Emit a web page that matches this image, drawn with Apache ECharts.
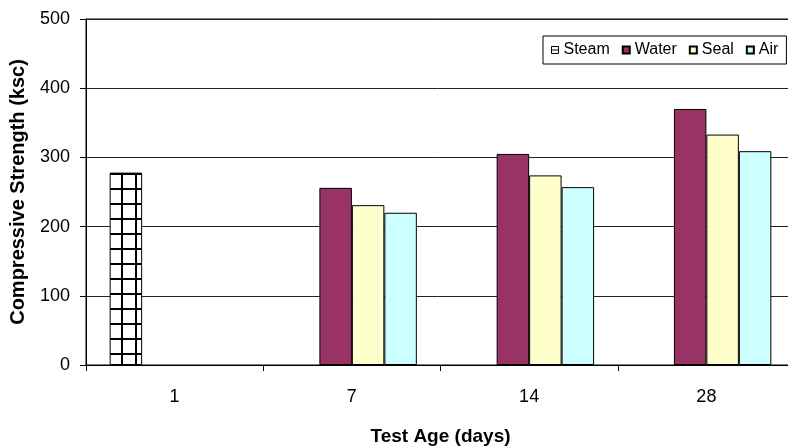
<!DOCTYPE html>
<html>
<head>
<meta charset="utf-8">
<script src="https://cdn.jsdelivr.net/npm/echarts@6/dist/echarts.min.js"></script>
<style>
html,body{margin:0;padding:0;background:#fff;}
#c{width:788px;height:448px;}
</style>
</head>
<body>
<div id="c"></div>
<script>
var categories = ['1', '7', '14', '28'];
var steam = [278, null, null, null];
var water = [null, 256, 305, 370];
var seal = [null, 231, 274, 333];
var air = [null, 220, 257, 309];
var yTicks = [0, 100, 200, 300, 400, 500];

function makeGridPattern() {
  var cv = document.createElement('canvas');
  cv.width = 14; cv.height = 15;
  var ctx = cv.getContext('2d');
  ctx.fillStyle = '#fff';
  ctx.fillRect(0, 0, 14, 15);
  ctx.fillStyle = '#000';
  ctx.fillRect(9, 0, 2, 15);
  ctx.fillRect(0, 8, 14, 2);
  return cv;
}

var FONT = '"Liberation Sans", Arial, sans-serif';
var chart = echarts.init(document.getElementById('c'), null, {renderer: 'canvas'});
var barBorder = {borderColor: '#000', borderWidth: 1};

chart.setOption({
  animation: false,
  backgroundColor: '#fff',
  textStyle: {fontFamily: FONT},
  grid: {
    left: 86, top: 19, width: 709, height: 346, containLabel: false,
    outerBoundsMode: 'none',
    show: true, borderColor: '#000', borderWidth: 1, backgroundColor: 'transparent'
  },
  legend: {
    left: 543, top: 36,
    padding: [6, 8, 6, 8],
    backgroundColor: '#fff',
    borderColor: '#000', borderWidth: 1,
    itemWidth: 7, itemHeight: 7, itemGap: 12,
    textStyle: {fontSize: 16, color: '#000', fontFamily: FONT},
    data: [
      {name: 'Steam', icon: 'path://M0,0H10V10H0Z M0,5H10', itemStyle: {color: '#fff', borderColor: '#000', borderWidth: 1}},
      {name: 'Water', icon: 'rect'},
      {name: 'Seal', icon: 'rect'},
      {name: 'Air', icon: 'rect'}
    ]
  },
  xAxis: {
    type: 'category',
    data: categories,
    name: 'Test Age (days)',
    nameLocation: 'middle',
    nameGap: 62,
    nameTextStyle: {fontSize: 19, fontWeight: 'bold', color: '#000', fontFamily: FONT},
    axisLine: {lineStyle: {color: '#000', width: 1}},
    axisTick: {show: true, length: 6, lineStyle: {color: '#000'}},
    axisLabel: {fontSize: 18, color: '#000', margin: 23, fontFamily: FONT},
    splitLine: {show: false}
  },
  yAxis: {
    type: 'value',
    min: 0, max: 500, interval: 100,
    name: 'Compressive Strength (ksc)',
    nameLocation: 'middle',
    nameGap: 58,
    nameTextStyle: {fontSize: 20, fontWeight: 'bold', color: '#000', fontFamily: FONT},
    axisLine: {show: true, lineStyle: {color: '#000', width: 1}},
    axisTick: {show: true, length: 6, lineStyle: {color: '#000'}},
    axisLabel: {fontSize: 18, color: '#000', margin: 16, fontFamily: FONT,
      formatter: function (v) { return yTicks.indexOf(v) >= 0 ? String(v) : ''; }},
    splitLine: {show: true, lineStyle: {color: '#222', width: 1}}
  },
  series: [
    {name: 'Steam', type: 'bar', data: steam, barGap: '0%', barCategoryGap: '26.7%',
      itemStyle: Object.assign({color: {image: makeGridPattern(), repeat: 'repeat'}}, barBorder)},
    {name: 'Water', type: 'bar', data: water, barGap: '0%', barCategoryGap: '26.7%',
      itemStyle: Object.assign({color: '#993366'}, barBorder)},
    {name: 'Seal', type: 'bar', data: seal, barGap: '0%', barCategoryGap: '26.7%',
      itemStyle: Object.assign({color: '#FFFFCC'}, barBorder)},
    {name: 'Air', type: 'bar', data: air, barGap: '0%', barCategoryGap: '26.7%',
      itemStyle: Object.assign({color: '#CCFFFF'}, barBorder)}
  ]
});
</script>
</body>
</html>
